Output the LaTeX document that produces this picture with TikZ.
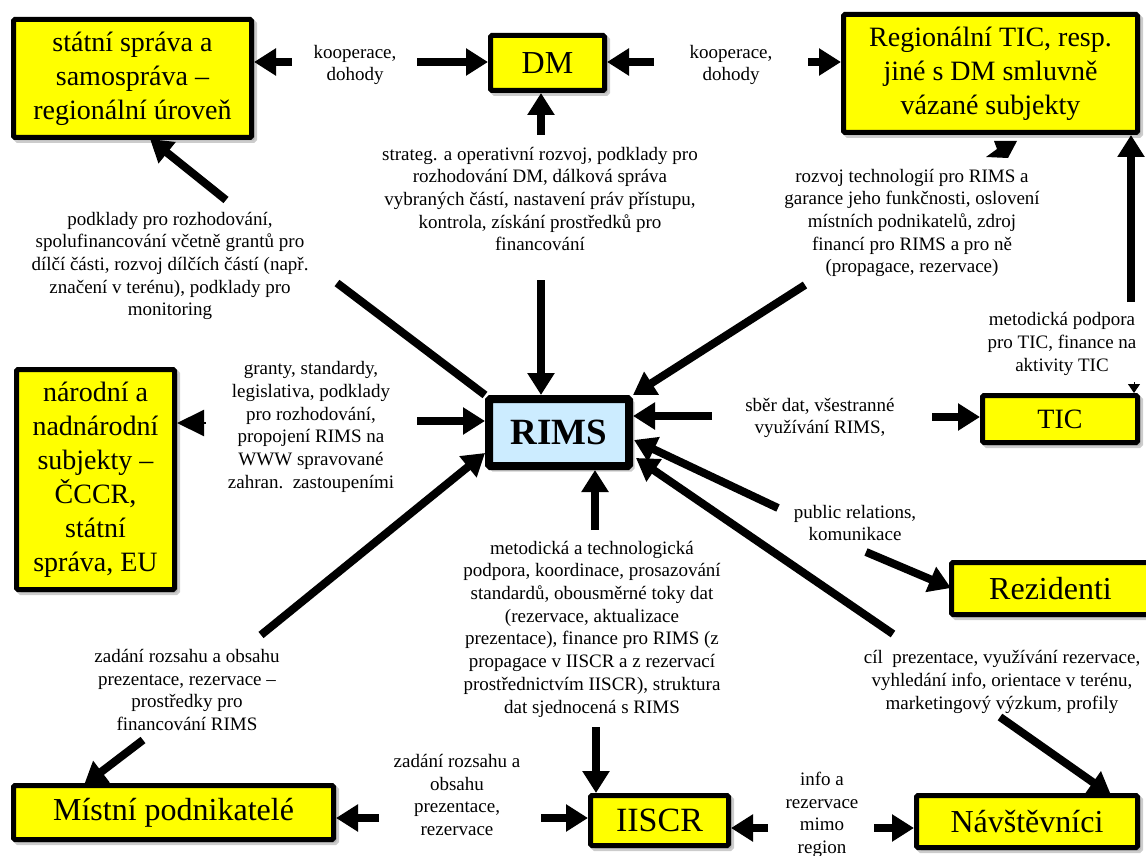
\documentclass[tikz,border=0pt]{standalone}
\usepackage{fontspec}
\setmainfont{Liberation Serif}
\usetikzlibrary{arrows.meta,shadows}
\definecolor{boxyellow}{RGB}{255,255,0}
\definecolor{rimsblue}{RGB}{204,236,255}
\tikzset{
  box/.style={draw=black, line width=5pt, fill=boxyellow, inner sep=0pt, align=center, rounded corners=1.5pt,
    drop shadow={shadow xshift=3pt, shadow yshift=-3pt, fill=black!40, draw=black!40, line width=5pt}},
  bigtxt/.style={font=\fontsize{32}{37}\selectfont},
  mtxt/.style={font=\fontsize{28}{34}\selectfont},
  lab/.style={align=center, inner sep=0pt, font=\fontsize{19}{22.7}\selectfont},
  arr/.style={line width=8pt, -{Triangle[length=22pt,width=26pt]}},
  bar/.style={line width=8pt},
}
\begin{document}
\begin{tikzpicture}[x=1pt,y=-1pt]
\useasboundingbox (0,0) rectangle (1146,856);
% boxes
\node[box, mtxt, minimum width=238pt, minimum height=118pt] (state) at (132.5,78.5) {státní správa a\\samospráva –\\regionální úroveň};
\node[box, bigtxt, minimum width=114pt, minimum height=55pt] (dm) at (547.5,63) {DM};
\node[box, mtxt, minimum width=294pt, minimum height=118pt] (regtic) at (990.5,73.5) {Regionální TIC, resp.\\jiné s DM smluvně\\vázané subjekty};
\node[box, mtxt, minimum width=158pt, minimum height=220pt] (narodni) at (95.5,479.5) {národní a\\nadnárodní\\subjekty –\\ČCCR,\\státní\\správa, EU};
\node[box, fill=rimsblue, line width=8pt, font=\bfseries\fontsize{37}{41}\selectfont, minimum width=140pt, minimum height=67pt] (rims) at (559,432.5) {RIMS};
\node[box, mtxt, minimum width=155pt, minimum height=47pt] (tic) at (1060,419) {TIC};
\node[box, bigtxt, minimum width=198pt, minimum height=52pt] (rez) at (1050.5,588.5) {Rezidenti};
\node[box, bigtxt, minimum width=320pt, minimum height=54pt] (mistni) at (173.5,812.5) {Místní podnikatelé};
\node[box, font=\fontsize{34}{38}\selectfont, minimum width=138pt, minimum height=50pt] (iiscr) at (659.5,820.5) {IISCR};
\node[box, bigtxt, minimum width=221pt, minimum height=52pt] (nav) at (1027,821.5) {Návštěvníci};
% labels
\node[lab] (k1) at (355,65) {kooperace,\\dohody};
\node[lab] (k2) at (731,65) {kooperace,\\dohody};
\node[lab] (strat) at (540,199) {strateg. a operativní rozvoj, podklady pro\\rozhodování DM, dálková správa\\vybraných částí, nastavení práv přístupu,\\kontrola, získání prostředků pro\\financování};
\node[lab] (labA) at (170,266) {podklady pro rozhodování,\\spolufinancování včetně grantů pro\\dílčí části, rozvoj dílčích částí (např.\\značení v terénu), podklady pro\\monitoring};
\node[lab] (labR) at (912,223) {rozvoj technologií pro RIMS a\\garance jeho funkčnosti, oslovení\\místních podnikatelů, zdroj\\financí pro RIMS a pro ně\\(propagace, rezervace)};
\node[lab] (labT) at (1062,344) {metodická podpora\\pro TIC, finance na\\aktivity TIC};
\node[lab] (granty) at (311,427) {granty, standardy,\\legislativa, podklady\\pro rozhodování,\\propojení RIMS na\\WWW spravované\\zahran.\ \ zastoupeními};
\node[lab] (sber) at (820,418) {sběr dat, všestranné\\využívání RIMS,};
\node[lab] (pr) at (855,523) {public relations,\\komunikace};
\node[lab] (metod) at (592,629) {metodická a technologická\\podpora, koordinace, prosazování\\standardů, obousměrné toky dat\\(rezervace, aktualizace\\prezentace), finance pro RIMS (z\\propagace v IISCR a z rezervací\\prostřednictvím IISCR), struktura\\dat sjednocená s RIMS};
\node[lab] (z1) at (187,690) {zadání rozsahu a obsahu\\prezentace, rezervace –\\prostředky pro\\financování RIMS};
\node[lab] (cil) at (1002,682) {cíl\ \ prezentace, využívání rezervace,\\vyhledání info, orientace v terénu,\\marketingový výzkum, profily};
\node[lab] (z2) at (457,795) {zadání rozsahu a\\obsahu\\prezentace,\\rezervace};
\node[lab] (info) at (822,815) {info a\\rezervace\\mimo\\region};
% connector ends
\coordinate (a1) at (292,62);
\coordinate (a2) at (417,62);
\coordinate (a3) at (654,62);
\coordinate (a4) at (808,62);
\coordinate (a5) at (541,135);
\coordinate (a6) at (541,280);
\coordinate (a7) at (226,200);
\coordinate (a7b) at (150,139);
\coordinate (a8) at (337,283);
\coordinate (a9) at (805,285);
\coordinate (a11) at (1131,302);
\coordinate (a12) at (1134,382);
\coordinate (a13) at (712,416);
\coordinate (a14) at (932,417);
\coordinate (a15) at (778,508);
\coordinate (a15b) at (634,440);
\coordinate (a16) at (866,552);
\coordinate (a16b) at (951,588);
\coordinate (a17) at (893,634);
\coordinate (a17b) at (636,458);
\coordinate (a18) at (595,530);
\coordinate (a19) at (1000,717);
\coordinate (a19b) at (1111,795);
\coordinate (a20) at (596,727);
\coordinate (a21) at (143,740);
\coordinate (a21b) at (84,785);
\coordinate (a22) at (379,818);
\coordinate (a23) at (541,818);
\coordinate (a24) at (768,828);
\coordinate (a25) at (874,828);
\coordinate (a26) at (261,635);
\coordinate (a26b) at (485,453);
\coordinate (a27) at (206,423);
\coordinate (a28) at (417,421);
% connectors
\draw[arr] (a1) -- (a1 -| state.east);
\draw[arr] (a2) -- (a2 -| dm.west);
\draw[arr] (a3) -- (a3 -| dm.east);
\draw[arr] (a4) -- (a4 -| regtic.west);
\draw[arr] (a5) -- (a5 |- dm.south);
\draw[arr] (a6) -- (a6 |- rims.north);
\draw[arr] (a7) -- (a7b);
\draw[bar] (a8) -- (rims.north west);
\draw[arr] (a9) -- (rims.north east);
\fill (986,157) -- (997,149) -- (994,141) -- (1017,141) -- (1008,158) -- cycle;
\draw[arr] (a11) -- (a11 |- regtic.south);
\draw[line width=1pt, -{Triangle[length=9pt,width=12pt]}] (a12) -- (a12 |- tic.north);
\draw[arr] (a13) -- (a13 -| rims.east);
\draw[arr] (a14) -- (a14 -| tic.west);
\draw[arr] (a15) -- (a15b);
\draw[arr] (a16) -- (a16b);
\draw[arr] (a17) -- (a17b);
\draw[arr] (a18) -- (a18 |- rims.south);
\draw[arr] (a19) -- (a19b);
\draw[arr] (a20) -- (a20 |- iiscr.north);
\draw[arr] (a21) -- (a21b);
\draw[arr] (a22) -- (a22 -| mistni.east);
\draw[arr] (a23) -- (a23 -| iiscr.west);
\draw[arr] (a24) -- (a24 -| iiscr.east);
\draw[arr] (a25) -- (a25 -| nav.west);
\draw[arr] (a26) -- (a26b);
\draw[line width=2pt, -{Triangle[length=27pt,width=26pt]}] (a27) -- (a27 -| narodni.east);
\draw[arr] (a28) -- (a28 -| rims.west);
\end{tikzpicture}
\end{document}
